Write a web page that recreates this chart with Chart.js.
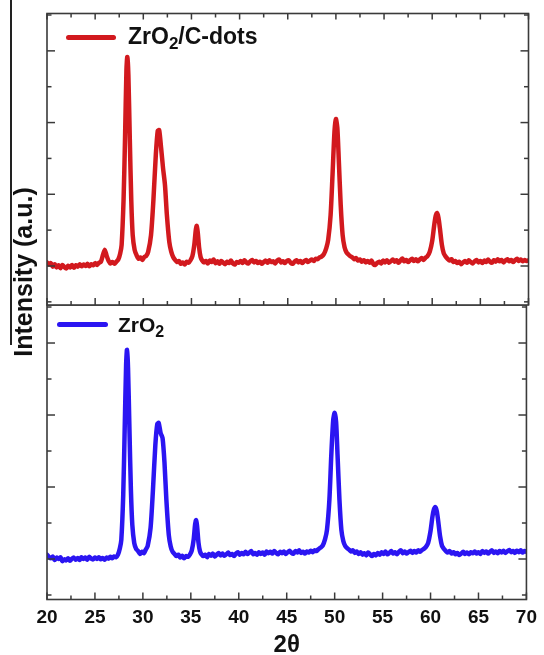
<!DOCTYPE html>
<html><head><meta charset="utf-8">
<script src="https://cdn.jsdelivr.net/npm/chart.js@4/dist/chart.umd.min.js"></script>
<style>
html,body{margin:0;padding:0;background:#fff;overflow:hidden;width:544px;height:655px;}
#wrapTop{position:absolute;left:0;top:0;width:544px;height:306px;}
#wrapBot{position:absolute;left:0;top:305px;width:544px;height:355px;}
.txt{position:absolute;font-family:"Liberation Sans",Arial,sans-serif;font-weight:bold;color:#111;white-space:nowrap;}
.sub{position:relative;top:5px;vertical-align:baseline;}
.legline{position:absolute;height:5px;border-radius:3px;}
#ytitle{left:-127.3px;top:257px;width:300px;height:30px;line-height:30px;font-size:25px;text-align:center;transform:rotate(-90deg);transform-origin:50% 50%;}
#artifact{position:absolute;left:10px;top:0;width:1.5px;height:345px;background:#222;}
</style></head>
<body>
<div id="artifact"></div>
<div id="wrapTop"><canvas id="cTop" width="544" height="306"></canvas></div>
<div id="wrapBot"><canvas id="cBot" width="544" height="355"></canvas></div>
<div class="legline" style="left:66px;top:35px;width:50px;background:#d2191e;"></div>
<div class="txt" style="left:128px;top:25px;font-size:23px;line-height:23px;">ZrO<span class="sub" style="font-size:17px;">2</span>/C-dots</div>
<div class="legline" style="left:57px;top:322px;width:51px;background:#2b15f2;"></div>
<div class="txt" style="left:118px;top:313.5px;font-size:21px;line-height:21px;">ZrO<span class="sub" style="font-size:16px;">2</span></div>
<div class="txt" id="ytitle">Intensity (a.u.)</div>
<script>
// ---- data ----
const twoTheta = [
 20.0,20.2,20.4,20.6,20.8,21.0,21.2,21.4,21.6,21.8,22.0,22.2,22.4,22.6,22.8,23.0,23.2,23.4,23.6,23.8,
 24.0,24.2,24.4,24.6,24.8,25.0,25.2,25.4,25.6,25.8,26.0,26.2,26.4,26.6,26.8,27.0,27.2,
 27.4,27.6,27.75,27.95,28.1,28.25,28.34,28.45,28.6,28.75,28.9,29.1,29.3,29.5,29.7,29.9,30.1,30.3,30.5,
 30.8,31.05,31.3,31.5,31.65,31.85,32.05,32.25,32.45,32.7,32.9,33.1,
 33.3,33.5,33.7,33.9,34.1,34.3,34.5,34.7,34.9,35.1,
 35.3,35.45,35.55,35.65,35.8,35.95,
 36.1,36.3,36.5,36.7,36.9,37.1,37.3,37.5,37.7,37.9,38.1,38.3,38.5,38.7,38.9,39.1,39.3,39.5,39.7,39.9,
 40.1,40.3,40.5,40.7,40.9,41.1,41.3,41.5,41.7,41.9,42.1,42.3,42.5,42.7,42.9,43.1,43.3,43.5,43.7,43.9,
 44.1,44.3,44.5,44.7,44.9,45.1,45.3,45.5,45.7,45.9,46.1,46.3,46.5,46.7,46.9,47.1,47.3,47.5,47.7,47.9,
 48.1,48.3,48.5,
 48.75,49.0,49.2,49.45,49.65,49.85,50.0,50.15,50.3,50.5,50.7,50.9,51.1,
 51.3,51.5,51.7,51.9,52.1,52.3,52.5,52.7,52.9,53.1,53.3,53.5,53.7,53.9,54.1,54.3,54.5,54.7,54.9,55.1,
 55.3,55.5,55.7,55.9,56.1,56.3,56.5,56.7,56.9,57.1,57.3,57.5,57.7,57.9,58.1,58.3,58.5,58.7,58.9,59.1,
 59.3,59.5,
 59.75,60.0,60.2,60.35,60.5,60.65,60.8,61.0,61.2,
 61.4,61.6,61.8,62.0,62.2,62.4,62.6,62.8,63.0,63.2,63.4,63.6,63.8,64.0,64.2,64.4,64.6,64.8,65.0,65.2,
 65.4,65.6,65.8,66.0,66.2,66.4,66.6,66.8,67.0,67.2,67.4,67.6,67.8,68.0,68.2,68.4,68.6,68.8,69.0,69.2,
 69.4,69.6,69.8,70.0
];
const zrO2CDots = [
 10,4,8,-2,5,-4,2,-6,3,-3,-7,1,-4,3,-5,2,-2,5,-1,4,
 0,6,-1,5,2,8,3,9,12,30,45,28,14,7,11,6,12,
 18,35,59,184,352,547,583,533,352,184,86,45,30,20,24,17,25,28,39,
 86,184,310,377,379,329,273,226,142,67,40,25,
 17,11,14,6,10,4,12,9,16,28,
 60,100,112,95,50,25,
 16,10,14,7,15,11,18,8,13,6,14,9,5,12,8,15,7,4,11,9,
 14,8,16,10,7,13,17,10,14,8,12,6,11,15,9,16,11,13,7,15,
 18,10,13,8,14,16,9,6,12,16,10,14,8,13,17,11,15,18,14,20,
 19,24,26,
 33,50,73,142,254,374,410,385,296,170,86,52,38,
 32,27,24,19,22,15,18,12,16,10,14,9,15,5,3,9,12,7,15,10,
 16,9,13,18,12,16,9,15,21,13,17,11,16,20,14,19,13,18,22,17,
 23,27,
 40,70,112,138,148,135,105,60,35,
 26,20,15,19,11,14,8,12,5,10,14,9,16,11,7,13,17,10,14,8,
 15,11,18,12,9,16,12,19,13,17,10,15,19,13,17,11,16,20,14,18,
 13,17,14,16
];
const zrO2 = [
 12,6,2,7,-3,4,0,5,-6,-1,-4,2,-5,1,4,-2,3,-3,5,0,
 4,-2,6,1,-1,4,0,5,-1,3,-2,4,1,6,2,7,5,
 12,30,53,178,358,539,581,531,358,192,94,44,28,22,14,20,16,26,36,
 86,192,317,375,378,350,336,269,164,67,35,20,
 14,8,12,4,9,2,8,6,12,24,
 55,97,108,92,45,22,
 13,8,12,5,14,9,15,7,12,17,10,15,9,13,18,11,14,8,15,19,
 12,17,13,20,14,18,22,13,17,12,19,14,18,12,21,16,20,15,22,17,
 13,20,16,21,14,19,23,17,15,22,18,24,17,20,15,21,18,23,19,24,
 22,27,31,
 37,55,81,164,289,386,406,381,289,164,81,50,36,
 30,26,21,24,17,21,14,19,12,16,10,18,13,8,14,10,17,12,19,14,
 21,13,17,22,15,19,13,20,24,16,21,15,19,23,17,22,18,24,20,25,
 28,33,
 45,78,118,138,144,133,105,62,36,
 28,22,18,22,15,19,13,17,11,15,20,14,18,13,19,16,21,15,19,14,
 22,17,21,15,20,24,17,21,16,22,18,23,17,21,25,19,22,17,23,19,
 24,18,22,20
];
const xMajorTicks = [20,25,30,35,40,45,50,55,60,65,70];
const xMinorTicks = [22.5,27.5,32.5,37.5,42.5,47.5,52.5,57.5,62.5,67.5];
const yMajorTicks = [0,200,400,600];
const yMinorTicks = [-100,100,300,500,700];

const toPoints = ys => twoTheta.map((t,i)=>({x:t,y:ys[i]}));

const frameTicks = {
  id:'frameTicks',
  afterDraw(chart, args, opts){
    const {ctx, chartArea:a} = chart;
    const xs = chart.scales.x, ys = chart.scales.y;
    ctx.save();
    ctx.strokeStyle = '#3a3a3a';
    ctx.lineWidth = 1.5;
    const seg=(x1,y1,x2,y2)=>{ctx.beginPath();ctx.moveTo(x1,y1);ctx.lineTo(x2,y2);ctx.stroke();};
    xMajorTicks.forEach(v=>{const p=xs.getPixelForValue(v);
      seg(p,a.bottom,p,a.bottom-7); if(opts.topTicks) seg(p,a.top,p,a.top+6);});
    xMinorTicks.forEach(v=>{const p=xs.getPixelForValue(v);
      seg(p,a.bottom,p,a.bottom-4); if(opts.topTicks) seg(p,a.top,p,a.top+4);});
    yMajorTicks.forEach(v=>{const p=ys.getPixelForValue(v);
      seg(a.left,p,a.left+8,p); seg(a.right,p,a.right-8,p);});
    yMinorTicks.forEach(v=>{const p=ys.getPixelForValue(v);
      seg(a.left,p,a.left+4.5,p); seg(a.right,p,a.right-4.5,p);});
    ctx.lineWidth = 1.6;
    ctx.strokeRect(a.left, a.top, a.right-a.left, a.bottom-a.top);
    ctx.restore();
  }
};

function makeChart(id, values, color, opts){
  return new Chart(document.getElementById(id), {
    type:'line',
    data:{datasets:[{data:toPoints(values), borderColor:color, borderWidth:4.5,
      pointRadius:0, tension:0.25, borderJoinStyle:'round', borderCapStyle:'round', fill:false}]},
    options:{
      responsive:false, animation:false, devicePixelRatio:1,
      layout:{padding:opts.padding},
      plugins:{legend:{display:false}, tooltip:{enabled:false}, frameTicks:{topTicks:opts.topTicks}},
      scales:{
        x:{type:'linear', min:20, max:70, display:opts.showX,
           grid:{display:false, drawTicks:false}, border:{display:false},
           ticks:{stepSize:5, autoSkip:false, maxRotation:0, padding:7, color:'#111',
                  font:{family:'"Liberation Sans", Arial, sans-serif', size:19, weight:'bold'}},
           title:{display:opts.showX, text:'2θ', color:'#111', padding:{top:0,bottom:0},
                  font:{family:'"Liberation Sans", Arial, sans-serif', size:24, weight:'bold'}},
           afterFit:opts.showX ? (s=>{s.height=60.5;}) : undefined},
        y:{type:'linear', min:opts.ymin, max:opts.ymax, display:false}
      }
    },
    plugins:[frameTicks]
  });
}

makeChart('cTop', zrO2CDots, '#d2191e',
  {padding:{left:47,right:15.5,top:13.5,bottom:1}, topTicks:true, showX:false, ymin:-108.8, ymax:704.2});
makeChart('cBot', zrO2, '#2b15f2',
  {padding:{left:47,right:15.5,top:0,bottom:0}, topTicks:false, showX:true, ymin:-112.5, ymax:705.6});
</script>
</body></html>
